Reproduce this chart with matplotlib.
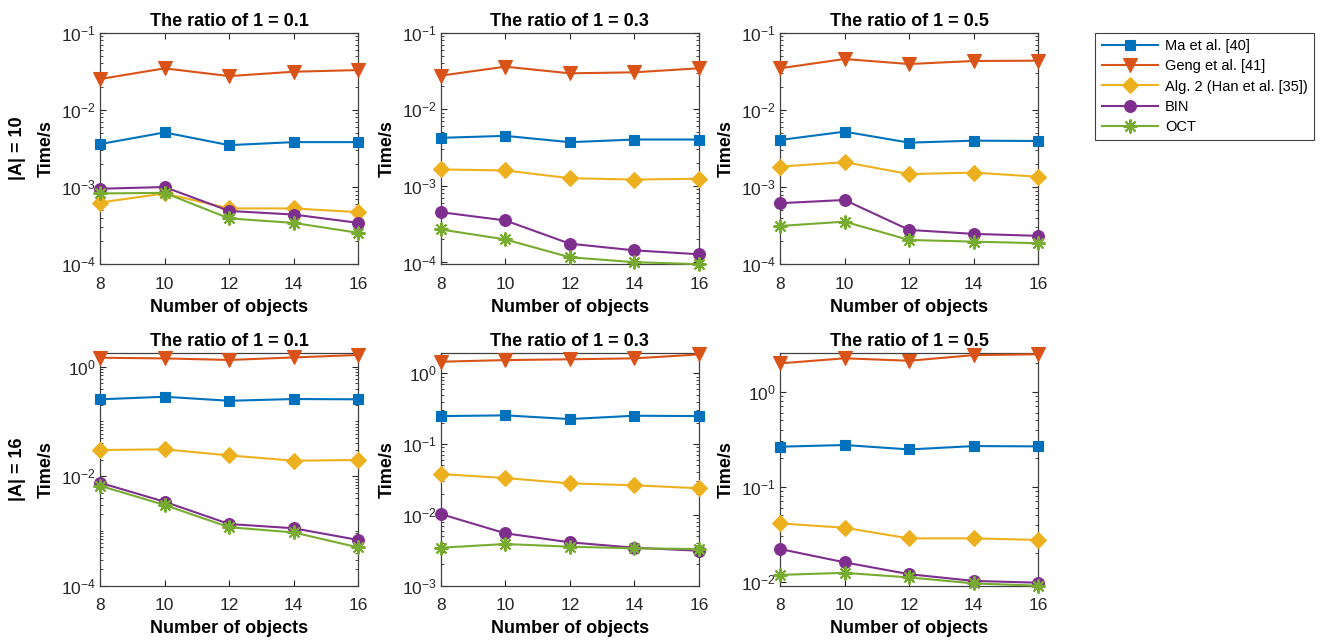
import matplotlib
matplotlib.use("Agg")
import matplotlib.pyplot as plt
from matplotlib.ticker import LogLocator, LogFormatterSciNotation, NullFormatter, FixedLocator
import numpy as np

plt.rcParams['font.family'] = ['Liberation Sans', 'DejaVu Sans']
plt.rcParams['mathtext.default'] = 'regular'

# ---------------- data ----------------
objects = [8, 10, 12, 14, 16]
ratios = ["0.1", "0.3", "0.5"]
set_sizes = ["10", "16"]
methods = ["Ma et al. [40]", "Geng et al. [41]", "Alg. 2 (Han et al. [35])", "BIN", "OCT"]

# |A| = 10 ; one list per ratio (0.1, 0.3, 0.5)
ma_A10 = [[0.0036, 0.0051, 0.00349, 0.00382, 0.00382],
          [0.00424, 0.0045, 0.00372, 0.00403, 0.00403],
          [0.00407, 0.00522, 0.00376, 0.00399, 0.00395]]
geng_A10 = [[0.0251, 0.0345, 0.0274, 0.0312, 0.0328],
            [0.0275, 0.036, 0.0295, 0.0304, 0.0343],
            [0.0346, 0.0456, 0.0393, 0.043, 0.0434]]
alg2_A10 = [[0.00063, 0.000826, 0.000528, 0.000528, 0.000472],
            [0.00164, 0.00159, 0.00126, 0.00121, 0.00124],
            [0.00184, 0.0021, 0.00147, 0.00154, 0.00136]]
bin_A10 = [[0.00095, 0.001, 0.00049, 0.00044, 0.000343],
           [0.000454, 0.000354, 0.000176, 0.000144, 0.000128],
           [0.000617, 0.00068, 0.000278, 0.000247, 0.000233]]
oct_A10 = [[0.000826, 0.00084, 0.000392, 0.000343, 0.000255],
           [0.00027, 0.0002, 0.000117, 0.000101, 0.000095],
           [0.000313, 0.000356, 0.000206, 0.000196, 0.000187]]

# |A| = 16
ma_A16 = [[0.254, 0.283, 0.239, 0.257, 0.254],
          [0.249, 0.255, 0.226, 0.252, 0.249],
          [0.264, 0.275, 0.247, 0.268, 0.266]]
geng_A16 = [[1.46, 1.42, 1.33, 1.48, 1.64],
            [1.46, 1.54, 1.58, 1.63, 1.85],
            [1.99, 2.25, 2.12, 2.43, 2.48]]
alg2_A16 = [[0.0301, 0.031, 0.024, 0.0192, 0.0198],
            [0.0378, 0.0332, 0.0279, 0.0262, 0.0238],
            [0.0411, 0.037, 0.0286, 0.0286, 0.0275]]
bin_A16 = [[0.0076, 0.00342, 0.00134, 0.00112, 0.000684],
           [0.0103, 0.0055, 0.0041, 0.00344, 0.00312],
           [0.0221, 0.016, 0.012, 0.0102, 0.00976]]
oct_A16 = [[0.0067, 0.00298, 0.00117, 0.00094, 0.0005],
           [0.00344, 0.00388, 0.00356, 0.00337, 0.0033],
           [0.0118, 0.0124, 0.0111, 0.0096, 0.00908]]

# y limits and labelled y ticks per panel
ylims_A10 = [(1e-4, 1e-1), (9.5e-5, 1e-1), (1e-4, 1e-1)]
ylims_A16 = [(1e-4, 1.76), (1e-3, 1.92), (9.08e-3, 2.54)]
yticks_A10 = [[1e-4, 1e-3, 1e-2, 1e-1]] * 3
yticks_A16 = [[1e-4, 1e-2, 1e0], [1e-3, 1e-2, 1e-1, 1e0], [1e-2, 1e-1, 1e0]]

# ---------------- style ----------------
colors = ["#0072BD", "#D95319", "#EDB120", "#7E2F8E", "#77AC30"]
markers = ["s", "v", "D", "o", (8, 2, 0)]
msizes = [7.5, 9.5, 8, 8.5, 10]

W, H = 1325, 642
fig = plt.figure(figsize=(W / 100, H / 100), dpi=100)

col_left = [100, 440.7, 780]
ax_w = 258.3
row_top = [32.7, 353.3]
ax_h = [231.5, 232.4]

rows_data = [
    (ma_A10, geng_A10, alg2_A10, bin_A10, oct_A10, ylims_A10, yticks_A10),
    (ma_A16, geng_A16, alg2_A16, bin_A16, oct_A16, ylims_A16, yticks_A16),
]

handles = None
for r in range(2):
    *series, ylims, yticks = rows_data[r]
    for c in range(3):
        l = col_left[c] / W
        b = 1 - (row_top[r] + ax_h[r]) / H
        ax = fig.add_axes([l, b, ax_w / W, ax_h[r] / H])
        hs = []
        for k in range(5):
            is_ast = not isinstance(markers[k], str)
            h, = ax.plot(objects, series[k][c], color=colors[k], marker=markers[k],
                         markersize=msizes[k], linewidth=1.5, clip_on=False,
                         markeredgecolor=colors[k], markerfacecolor=colors[k],
                         markeredgewidth=1.5 if is_ast else 0.8,
                         label=methods[k], zorder=3 + k)
            hs.append(h)
        handles = hs
        ax.set_yscale('log')
        ax.set_xlim(8, 16)
        ax.set_ylim(*ylims[c])
        ax.set_xticks(objects)
        ax.yaxis.set_major_locator(FixedLocator(yticks[c]))
        ax.yaxis.set_major_formatter(LogFormatterSciNotation())
        ax.yaxis.set_minor_locator(LogLocator(base=10, subs=np.arange(1, 10), numticks=30))
        ax.yaxis.set_minor_formatter(NullFormatter())
        ax.tick_params(axis='both', which='both', direction='in', top=True, right=True,
                       colors='#262626', labelsize=12.5)
        ax.tick_params(which='major', length=4, width=0.8)
        ax.tick_params(which='minor', length=2, width=0.6)
        ax.tick_params(axis='x', which='major', pad=9)
        ax.tick_params(axis='y', which='major', pad=3)
        for sp in ax.spines.values():
            sp.set_color('#404040')
            sp.set_linewidth(0.9)
        ax.set_title(f"The ratio of 1 = {ratios[c]}", fontsize=13, fontweight='bold', pad=5)
        ax.set_xlabel("Number of objects", fontsize=13, fontweight='bold', labelpad=5)
        ax.set_ylabel("Time/s", fontsize=13, fontweight='bold')
        ax.yaxis.set_label_coords(-0.175, 0.5)
    yc = 1 - (row_top[r] + ax_h[r] / 2) / H
    fig.text(17 / W, yc, f"|A| = {set_sizes[r]}", rotation=90, ha='center', va='center',
             fontsize=13, fontweight='bold')

leg = fig.legend(handles=handles, labels=methods, loc='upper left',
                 bbox_to_anchor=(1095 / W, 1 - 32.7 / H), fontsize=10.5,
                 handlelength=3.9, fancybox=False, framealpha=1, edgecolor='#404040',
                 borderpad=0.45, borderaxespad=0, labelspacing=0.42, handletextpad=0.45)
leg.get_frame().set_linewidth(0.8)

fig.savefig("out.png", dpi=100)
